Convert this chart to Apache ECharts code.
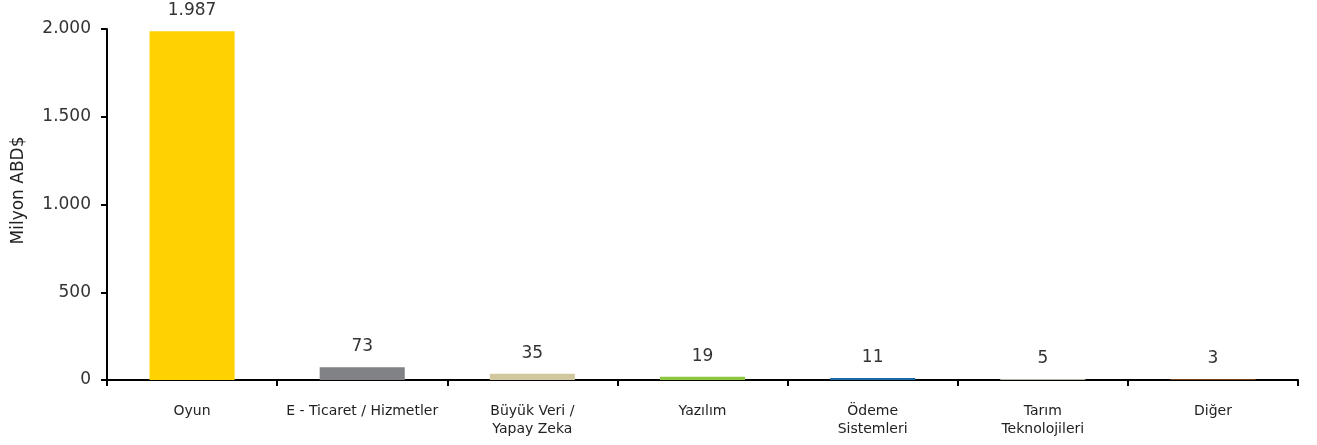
<!DOCTYPE html>
<html lang="tr">
<head>
    <meta charset="UTF-8">
    <title>Milyon ABD$</title>
    <script src="https://cdn.jsdelivr.net/npm/echarts@6/dist/echarts.min.js"></script>
    <style>
        html, body { margin: 0; padding: 0; background: #fff; }
        #main { width: 1317px; height: 445px; }
    </style>
</head>
<body>
<div id="main"></div>
<script type="text/javascript">
    // veriler
    var categories = ['Oyun', 'E - Ticaret / Hizmetler', 'Büyük Veri /\nYapay Zeka', 'Yazılım', 'Ödeme\nSistemleri', 'Tarım\nTeknolojileri', 'Diğer'];
    var values = [1987, 73, 35, 19, 11, 5, 3];
    var colors = ['#FFD200', '#808285', '#D2C8A0', '#8DC63F', '#1B6AA5', '#B4B79E', '#E0833A'];
    var yTicks = [0, 500, 1000, 1500, 2000];

    // binlik ayırıcı nokta
    function fmt(v) {
        return String(v).replace(/\B(?=(\d{3})+(?!\d))/g, '.');
    }

    var myChart = echarts.init(document.getElementById('main'));
    var option = {
        animation: false,
        grid: { left: 107, right: 19, top: 29, bottom: 65 },
        xAxis: {
            type: 'category',
            data: categories,
            axisLine: { lineStyle: { color: '#000', width: 2 } },
            axisTick: { show: true, length: 6, lineStyle: { color: '#000', width: 2 } },
            axisLabel: {
                interval: 0, margin: 22, fontSize: 14, lineHeight: 18,
                color: '#222', fontFamily: 'DejaVu Sans'
            }
        },
        yAxis: {
            type: 'value',
            min: yTicks[0],
            max: yTicks[yTicks.length - 1],
            interval: 500,
            name: 'Milyon ABD$',
            nameLocation: 'middle',
            nameGap: 80,
            nameTextStyle: { fontSize: 17, color: '#222', fontFamily: 'DejaVu Sans', padding: [0, 0, 0, 28] },
            splitLine: { show: false },
            axisLine: { show: true, lineStyle: { color: '#000', width: 2 } },
            axisTick: { show: true, length: 6, lineStyle: { color: '#000', width: 2 } },
            axisLabel: {
                fontSize: 17, color: '#333', margin: 16, fontFamily: 'DejaVu Sans',
                formatter: function (v) { return fmt(v); }
            }
        },
        series: [{
            type: 'bar',
            data: values.map(function (v, i) {
                return { value: v, itemStyle: { color: colors[i] } };
            }),
            barWidth: '50%',
            label: {
                show: true, position: 'top', distance: 12,
                fontSize: 17, color: '#333', fontFamily: 'DejaVu Sans',
                formatter: function (p) { return fmt(p.value); }
            }
        }]
    };
    myChart.setOption(option);
</script>
</body>
</html>
